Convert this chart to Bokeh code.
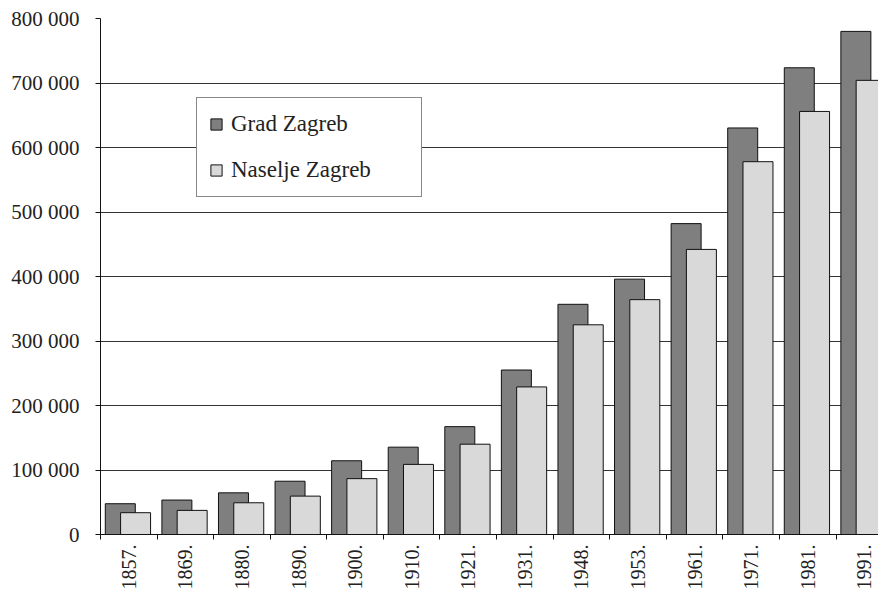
import math
from bokeh.plotting import figure
from bokeh.models import ColumnDataSource, Range1d, FixedTicker
from bokeh.transform import dodge
from bokeh.embed import file_html
from bokeh.resources import INLINE

# ---- data ----
years = ["1857.", "1869.", "1880.", "1890.", "1900.", "1910.", "1921.",
         "1931.", "1948.", "1953.", "1961.", "1971.", "1981.", "1991."]
grad_zagreb = [47700, 53400, 64600, 82600, 114300, 135400, 167200,
               255000, 356900, 395900, 482000, 630300, 723600, 780000]
naselje_zagreb = [33800, 37400, 49200, 59500, 86600, 108700, 140000,
                  228800, 325100, 364100, 442000, 578000, 655900, 704100]
y_ticks = [0, 100000, 200000, 300000, 400000, 500000, 600000, 700000, 800000]
y_tick_labels = ["0", "100 000", "200 000", "300 000", "400 000",
                 "500 000", "600 000", "700 000", "800 000"]
series_names = ["Grad Zagreb", "Naselje Zagreb"]

idx = list(range(len(years)))
src = ColumnDataSource(dict(x=idx, grad=grad_zagreb, naselje=naselje_zagreb))

FONT = "Liberation Serif"

p = figure(width=878, height=592, output_backend="svg", toolbar_location=None,
           x_range=Range1d(-0.5, 13.25), y_range=Range1d(0, 800000),
           min_border_left=100, min_border_right=0, min_border_top=18,
           min_border_bottom=54)
p.outline_line_color = None
p.background_fill_color = "white"
p.border_fill_color = "white"

p.vbar(x=dodge("x", -0.15), top="grad", width=0.53, source=src,
       fill_color="#7f7f7f", line_color="#111111", line_width=1,
       legend_label=series_names[0])
p.vbar(x=dodge("x", 0.12), top="naselje", width=0.53, source=src,
       fill_color="#d9d9d9", line_color="#111111", line_width=1,
       legend_label=series_names[1])

# y axis
p.yaxis.ticker = FixedTicker(ticks=y_ticks)
p.yaxis.major_label_overrides = {t: l for t, l in zip(y_ticks, y_tick_labels)}
p.yaxis.major_label_text_font = FONT
p.yaxis.major_label_text_font_size = "21px"
p.yaxis.major_label_text_color = "#222222"
p.yaxis.major_label_standoff = 16
p.yaxis.major_tick_out = 5
p.yaxis.major_tick_in = 0
p.yaxis.minor_tick_line_color = None
p.yaxis.axis_line_color = "#111111"
p.yaxis.major_tick_line_color = "#111111"

# x axis
p.xaxis.ticker = FixedTicker(ticks=idx, minor_ticks=[i - 0.5 for i in idx])
p.xaxis.major_label_overrides = {i: y for i, y in zip(idx, years)}
p.xaxis.major_label_orientation = math.pi / 2
p.xaxis.major_label_text_font = FONT
p.xaxis.major_label_text_font_size = "20px"
p.xaxis.major_label_text_color = "#222222"
p.xaxis.major_label_standoff = 5
p.xaxis.major_tick_line_color = None
p.xaxis.major_tick_out = 0
p.xaxis.major_tick_in = 0
p.xaxis.minor_tick_out = 5
p.xaxis.minor_tick_in = 0
p.xaxis.minor_tick_line_color = "#111111"
p.xaxis.axis_line_color = "#111111"

# grid
p.xgrid.visible = False
p.ygrid.ticker = FixedTicker(ticks=y_ticks)
p.ygrid.grid_line_color = "#333333"
p.ygrid.grid_line_width = 1

# legend
lg = p.legend[0]
lg.location = (96, 337)
lg.label_text_font = FONT
lg.label_text_font_size = "23px"
lg.label_text_color = "#222222"
lg.glyph_width = 14
lg.glyph_height = 14
lg.label_standoff = 8
lg.padding = 12
lg.spacing = 18
lg.label_height = 28
lg.label_width = 178
lg.border_line_color = "#111111"
lg.border_line_width = 1.5
lg.background_fill_color = "white"
lg.background_fill_alpha = 1.0
lg.margin = 0

open("out.html", "w").write(file_html(p, INLINE))
